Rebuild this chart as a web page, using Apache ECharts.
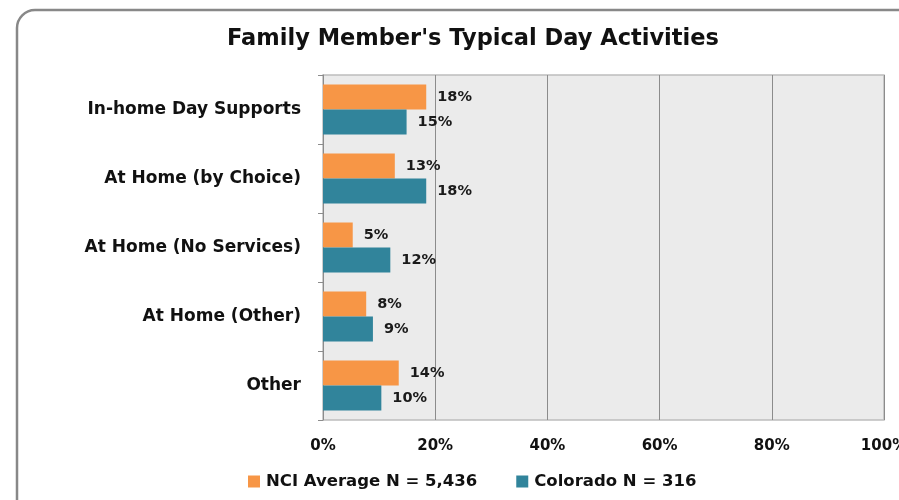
<!DOCTYPE html>
<html><head><meta charset="utf-8">
<script src="https://cdn.jsdelivr.net/npm/echarts@6/dist/echarts.min.js"></script>
<style>html,body{margin:0;padding:0;background:#fff}#c{width:899px;height:500px}</style>
</head><body><div id="c"></div>
<script>
const categories = ["In-home Day Supports","At Home (by Choice)","At Home (No Services)","At Home (Other)","Other"];
const nciValues = [18.4, 12.8, 5.3, 7.7, 13.5];
const coloradoValues = [14.9, 18.4, 12.0, 8.9, 10.4];
const seriesNames = ["NCI Average N = 5,436", "Colorado N = 316"];
const xTicks = [0, 20, 40, 60, 80, 100];

const FONT = "DejaVu Sans";
const chart = echarts.init(document.getElementById('c'), null, {renderer:'canvas'});
const labelCfg = {show:true, position:'right', distance:11, color:'#1a1a1a', fontFamily:FONT, fontWeight:'bold', fontSize:14.5,
  formatter: p => Math.round(p.value) + '%'};
chart.setOption({
  animation:false,
  textStyle:{fontFamily:FONT},
  title:{text:"Family Member's Typical Day Activities", left:468, textAlign:'center', top:23,
    textStyle:{fontFamily:FONT, fontWeight:'bold', fontSize:22.5, color:'#111'}},
  graphic:[{type:'rect', shape:{x:17, y:10, width:1000, height:600, r:18}, style:{fill:'none', stroke:'#888', lineWidth:2.5}}],
  legend:{bottom:5, left:243, itemWidth:12, itemHeight:12, itemGap:39, icon:'rect',
    textStyle:{fontFamily:FONT, fontWeight:'bold', fontSize:16.5, color:'#111', padding:[0,0,0,1]}},
  grid:{left:323, right:15, top:75, bottom:80, show:true, backgroundColor:'#EBEBEB', borderColor:'#BDBDBD', borderWidth:1.5,
    containLabel:false, outerBoundsMode:'none'},
  xAxis:{type:'value', min:xTicks[0], max:xTicks[xTicks.length-1], interval:20,
    axisLine:{show:false}, axisTick:{show:false},
    splitLine:{show:true, lineStyle:{color:'#8C8C8C', width:1}},
    axisLabel:{margin:19, formatter:'{value}%', fontFamily:FONT, fontWeight:'bold', fontSize:15, color:'#111'}},
  yAxis:{type:'category', data:categories, inverse:true,
    axisLine:{show:true, lineStyle:{color:'#8C8C8C', width:1}},
    axisTick:{show:true, length:5, lineStyle:{color:'#8C8C8C'}},
    axisLabel:{margin:22, fontFamily:FONT, fontWeight:'bold', fontSize:17, color:'#111', padding:[3,0,0,0]}},
  series:[
    {name:seriesNames[0], type:'bar', data:nciValues, barWidth:25, barGap:'0%', itemStyle:{color:'#F79646'}, label:labelCfg},
    {name:seriesNames[1], type:'bar', data:coloradoValues, barWidth:25, barGap:'0%', itemStyle:{color:'#31849B'}, label:labelCfg}
  ]
});
</script></body></html>
